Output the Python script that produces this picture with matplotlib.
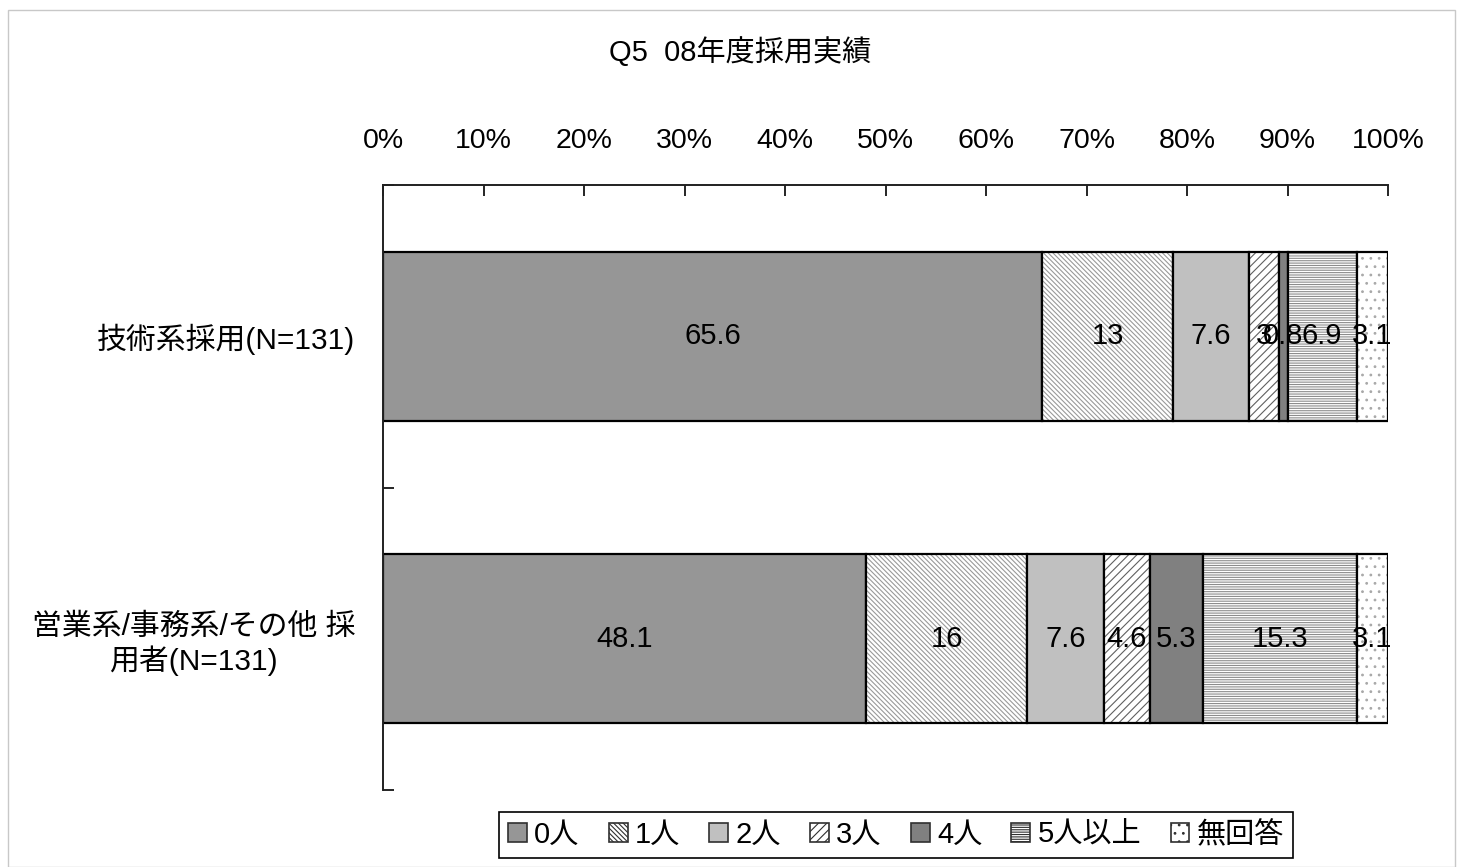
import numpy as np
import matplotlib.pyplot as plt
from matplotlib.patches import Patch, Rectangle

plt.rcParams['font.family'] = ['Liberation Sans', 'Noto Sans CJK JP', 'DejaVu Sans']
plt.rcParams['hatch.linewidth'] = 0.8

# survey results, percent of respondents
categories = ['技術系採用(N=131)', '営業系/事務系/その他 採\n用者(N=131)']
series = ['0人', '1人', '2人', '3人', '4人', '5人以上', '無回答']
values = [
    [65.6, 48.1],   # 0人
    [13.0, 16.0],   # 1人
    [7.6, 7.6],     # 2人
    [3.0, 4.6],     # 3人
    [0.8, 5.3],     # 4人
    [6.9, 15.3],    # 5人以上
    [3.1, 3.1],     # 無回答
]
xticks = np.arange(0, 101, 10)

# fill / hatch per series: (facecolor, hatch, hatch colour)
styles = [
    ('#969696', None, '#969696'),
    ('white', '\\\\\\\\\\\\\\', '#999999'),
    ('#c0c0c0', None, '#c0c0c0'),
    ('white', '////', '#606060'),
    ('#808080', None, '#808080'),
    ('white', '-------', '#8c8c8c'),
    ('white', '..', '#a8a8a8'),
]

fig = plt.figure(figsize=(14.58, 8.67), dpi=100)
ax = fig.add_axes([383 / 1458, 77 / 867, 1005 / 1458, 605 / 867])

y = np.arange(len(categories))
left = np.zeros(len(categories))
for name, vals, (fc, hatch, hc) in zip(series, values, styles):
    vals = np.array(vals)
    ax.barh(y, vals, left=left, height=0.56, color=fc, hatch=hatch,
            edgecolor=hc, linewidth=0)
    ax.barh(y, vals, left=left, height=0.56, fill=False,
            edgecolor='black', linewidth=1.6)
    for yi, l, v in zip(y, left, vals):
        ax.text(l + v / 2, yi, f'{v:g}', ha='center', va='center', fontsize=21)
    left += vals

ax.set_xlim(0, 100)
ax.set_ylim(1.5, -0.5)
ax.xaxis.tick_top()
ax.set_xticks(xticks)
ax.set_xticklabels([f'{t}%' for t in xticks], fontsize=20.5)
ax.tick_params(axis='x', direction='in', length=8, width=1.2, pad=22)
ax.set_yticks([-0.5, 0.5, 1.5], minor=False)
ax.set_yticklabels([])
ax.set_yticks(y, minor=True)
ax.set_yticklabels(categories, minor=True, fontsize=21.5, multialignment='center')
ax.tick_params(axis='y', which='major', direction='in', length=8, width=1.2)
ax.tick_params(axis='y', which='minor', length=0, pad=20)
for s in ('right', 'bottom'):
    ax.spines[s].set_visible(False)
for s in ('left', 'top'):
    ax.spines[s].set_linewidth(1.4)
    ax.spines[s].set_color('#202020')

fig.text(740 / 1458, 1 - 52 / 867, 'Q5  08年度採用実績', ha='center', va='center',
         fontsize=21)

handles = [Patch(facecolor=fc, hatch=hatch, edgecolor='#303030', linewidth=1.2)
           for fc, hatch, hc in styles]
leg = fig.legend(handles, series, loc='center', ncol=7,
                 bbox_to_anchor=(896 / 1458, 1 - 835 / 867),
                 fontsize=21, handlelength=0.65, handleheight=0.65,
                 handletextpad=0.25, columnspacing=1.0, borderpad=0.3,
                 fancybox=False, edgecolor='black', framealpha=1)
leg.get_frame().set_linewidth(1.2)

# outer chart border
fig.patches.append(Rectangle((8 / 1458, 0), 1447 / 1458, 1 - 10 / 867,
                             transform=fig.transFigure, fill=False,
                             edgecolor='#c8c8c8', linewidth=1))

fig.savefig('out.png', dpi=100)
